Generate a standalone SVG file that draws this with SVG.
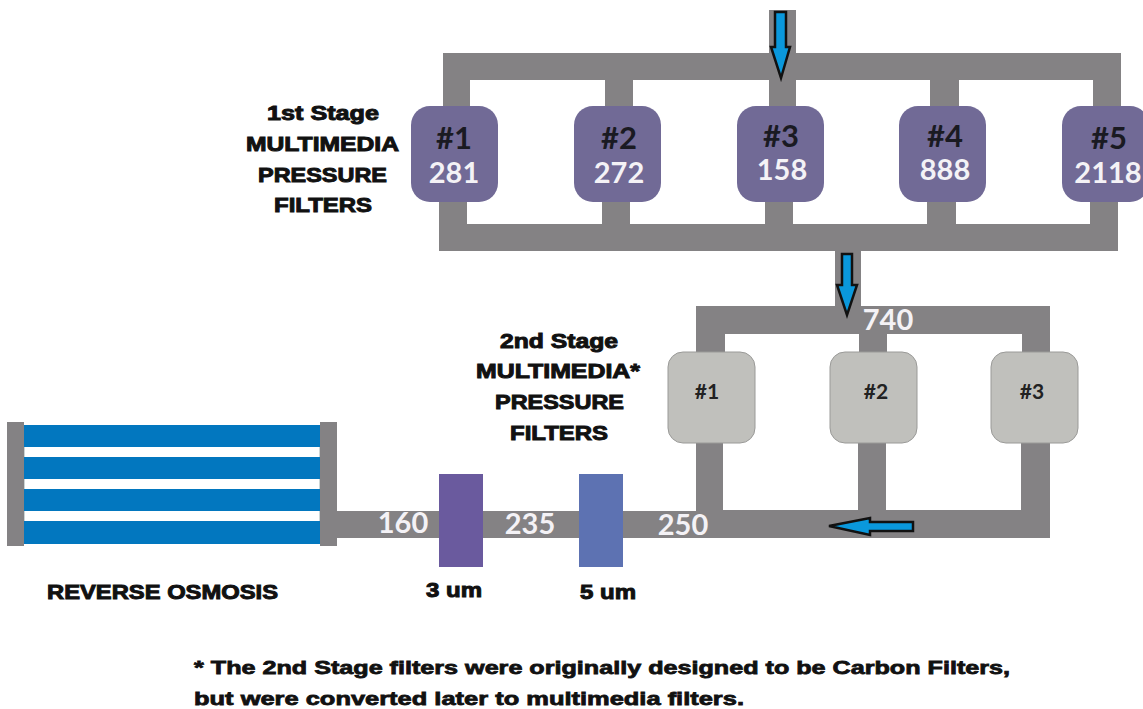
<svg xmlns="http://www.w3.org/2000/svg" width="1143" height="709" viewBox="0 0 1143 709">
<defs><style>
.p{fill:#848284}
.n1{fill:#716a96}
.n2{fill:#c0c0bc;stroke:#9a9a98;stroke-width:1}
.b{font-family:"Liberation Sans",Arial,sans-serif;font-weight:700;fill:#111;stroke:#111;stroke-width:1;text-anchor:start}
.s{font-size:21px}
.h{font-family:"Lato","Liberation Sans",sans-serif;font-weight:700;font-size:31px;fill:#1a1a22;text-anchor:middle}
.h2{font-family:"Lato","Liberation Sans",sans-serif;font-weight:700;font-size:21px;fill:#222;text-anchor:middle}
.w{font-family:"Lato","Liberation Sans",sans-serif;font-weight:700;font-size:29px;fill:#f4f2f6;text-anchor:middle}
.ro{fill:#0277bf}
.cap{fill:#848284}
.ar{fill:#0a98dc;stroke:#111;stroke-width:2.5}
.note{font-family:"Liberation Sans",Arial,sans-serif;font-weight:700;font-size:19px;fill:#111;stroke:#111;stroke-width:.8}
</style></defs>
<rect width="1143" height="709" fill="#fff"/>
<g id="connectors">
<path class="p" d="M769 10h27v43h325v53h-28v-26h-134v26h-29v-26h-134v26h-27v-26h-136v26h-28v-26h-135v26h-27v-53h326z"/>
<path class="p" d="M439 202h28v22h135v-22h28v22h135v-22h28v22h134v-22h29v22h134v-22h28v49h-257v55h189v46h-28v-18h-135v18h-28v-18h-134v18h-29v-46h139v-55h-396z"/>
<path class="p" d="M696 443h27v67h135v-67h28v67h135v-70h29v98h-720v-27h366z"/>
</g>
<g id="reverse-osmosis">
<rect x="24" y="446" width="296" height="12" fill="#fff" stroke="#9aa" stroke-width="1"/>
<rect x="24" y="478" width="296" height="12" fill="#fff" stroke="#9aa" stroke-width="1"/>
<rect x="24" y="510" width="296" height="12" fill="#fff" stroke="#9aa" stroke-width="1"/>
<rect class="ro" x="24" y="425" width="296" height="22"/>
<rect class="ro" x="24" y="457" width="296" height="22"/>
<rect class="ro" x="24" y="489" width="296" height="22"/>
<rect class="ro" x="24" y="521" width="296" height="23"/>
<rect class="cap" x="7" y="422" width="17" height="124"/>
<rect class="cap" x="320" y="422" width="17" height="124"/>
<text class="b s" x="47" y="599" textLength="231" lengthAdjust="spacingAndGlyphs">REVERSE OSMOSIS</text>
</g>
<g id="filter-3um"><rect x="439" y="474" width="44" height="93" fill="#6a5a9e"/><text class="b" font-size="21" x="426" y="597" textLength="56" lengthAdjust="spacingAndGlyphs">3 um</text></g>
<g id="filter-5um"><rect x="579" y="474" width="44" height="93" fill="#5d72b2"/><text class="b" font-size="21" x="580" y="599" textLength="56" lengthAdjust="spacingAndGlyphs">5 um</text></g>
<g id="s1-1"><rect class="n1" x="411" y="106" width="87" height="96" rx="19"/><text class="h" x="454" y="149">#1</text><text class="w" x="454" y="183">281</text></g>
<g id="s1-2"><rect class="n1" x="574" y="106" width="87" height="96" rx="19"/><text class="h" x="619" y="149">#2</text><text class="w" x="619" y="183">272</text></g>
<g id="s1-3"><rect class="n1" x="737" y="106" width="87" height="96" rx="19"/><text class="h" x="781" y="147">#3</text><text class="w" x="782" y="180">158</text></g>
<g id="s1-4"><rect class="n1" x="899" y="106" width="87" height="96" rx="19"/><text class="h" x="945" y="147">#4</text><text class="w" x="945" y="180">888</text></g>
<g id="s1-5"><rect class="n1" x="1062" y="106" width="87" height="96" rx="19"/><text class="h" x="1109" y="149">#5</text><text class="w" x="1108" y="183">2118</text></g>
<g id="s2-1"><rect class="n2" x="668" y="352" width="87" height="91" rx="15"/><text class="h2" x="707" y="399">#1</text></g>
<g id="s2-2"><rect class="n2" x="830" y="352" width="87" height="91" rx="15"/><text class="h2" x="876" y="399">#2</text></g>
<g id="s2-3"><rect class="n2" x="991" y="352" width="87" height="91" rx="15"/><text class="h2" x="1032" y="399">#3</text></g>
<g id="flow-labels">
<text class="w" x="888" y="330">740</text>
<text class="w" x="403" y="533">160</text>
<text class="w" x="530" y="534">235</text>
<text class="w" x="683" y="535">250</text>
</g>
<g id="arrows">
<path class="ar" d="M775 12h11v35h4l-9 31-10-31h4z"/>
<path class="ar" d="M842 254h10v31h5l-10 30-10-30h5z"/>
<path class="ar" d="M913 522v9h-43v4l-41-9 41-8v4z"/>
</g>
<g id="stage-labels">
<text class="b s" x="267" y="120" textLength="112" lengthAdjust="spacingAndGlyphs">1st Stage</text>
<text class="b s" x="246" y="151" textLength="153" lengthAdjust="spacingAndGlyphs">MULTIMEDIA</text>
<text class="b s" x="258" y="182" textLength="129" lengthAdjust="spacingAndGlyphs">PRESSURE</text>
<text class="b s" x="274" y="212" textLength="98" lengthAdjust="spacingAndGlyphs">FILTERS</text>
<text class="b s" x="500" y="348" textLength="118" lengthAdjust="spacingAndGlyphs">2nd Stage</text>
<text class="b s" x="476" y="378" textLength="164" lengthAdjust="spacingAndGlyphs">MULTIMEDIA*</text>
<text class="b s" x="495" y="409" textLength="129" lengthAdjust="spacingAndGlyphs">PRESSURE</text>
<text class="b s" x="510" y="440" textLength="98" lengthAdjust="spacingAndGlyphs">FILTERS</text>
</g>
<g id="note">
<text class="note" x="194" y="674" textLength="816" lengthAdjust="spacingAndGlyphs">* The 2nd Stage filters were originally designed to be Carbon Filters,</text>
<text class="note" x="194" y="705" textLength="550" lengthAdjust="spacingAndGlyphs">but were converted later to multimedia filters.</text>
</g>
</svg>
